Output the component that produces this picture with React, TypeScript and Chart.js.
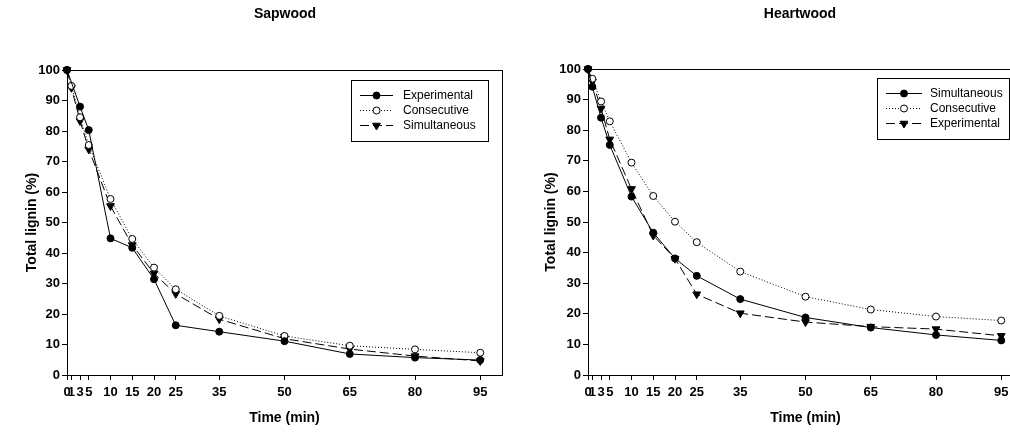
import React, { useEffect, useRef } from "react";
import { Chart, registerables } from "chart.js";

Chart.register(...registerables);

// ---------- data ----------
const times = [0, 1, 3, 5, 10, 15, 20, 25, 35, 50, 65, 80, 95];
const xTickValues = [0, 1, 3, 5, 10, 15, 20, 25, 35, 50, 65, 80, 95];

const sapExperimental = [100, null, 88.0, 80.3, 44.8, 41.7, 31.4, 16.3, 14.2, 11.1, 6.9, 5.7, 4.9];
const sapConsecutive = [100, 94.8, 84.5, 75.4, 57.7, 44.6, 35.2, 28.1, 19.4, 12.8, 9.6, 8.4, 7.3];
const sapSimultaneous = [100, 94.2, 83.3, 74.0, 55.4, 42.6, 33.3, 26.6, 18.3, 11.9, 8.5, 6.2, 4.6];

const heartSimultaneous = [100, 94.2, 84.1, 75.2, 58.3, 46.5, 38.1, 32.4, 24.8, 18.8, 15.5, 13.1, 11.3];
const heartConsecutive = [100, 96.8, 89.4, 82.9, 69.4, 58.5, 50.1, 43.4, 33.8, 25.6, 21.4, 19.1, 17.8];
const heartExperimental = [100, 95.9, 87.1, 77.0, 60.8, 45.6, 38.0, 26.4, 20.2, 17.3, 15.8, 15.0, 12.8];

const xTitle = "Time (min)";
const yTitle = "Total lignin (%)";

// ---------- styles ----------
const FONT = "'Liberation Sans', Arial, sans-serif";

type Style = "solid" | "dotted" | "dashed";
type Marker = "filled" | "open" | "triangle";

const dashOf = (s: Style) => (s === "solid" ? [] : s === "dotted" ? [1, 2] : [9, 4]);

function makeDataset(label: string, values: (number | null)[], style: Style, marker: Marker) {
  return {
    label,
    data: times.map((t, i) => ({ x: t, y: values[i] })),
    borderColor: "#000",
    borderWidth: 1,
    borderDash: dashOf(style),
    backgroundColor: marker === "open" ? "#fff" : "#000",
    pointBackgroundColor: marker === "open" ? "#fff" : "#000",
    pointBorderColor: "#000",
    pointBorderWidth: 1,
    pointStyle: marker === "triangle" ? "triangle" : "circle",
    pointRotation: marker === "triangle" ? 180 : 0,
    pointRadius: marker === "triangle" ? 4.5 : 3.5,
    tension: 0,
    spanGaps: true,
    clip: false as any,
    _style: style,
    _marker: marker,
  };
}

function drawMarker(ctx: CanvasRenderingContext2D, x: number, y: number, marker: Marker) {
  ctx.save();
  ctx.setLineDash([]);
  ctx.lineWidth = 1;
  ctx.strokeStyle = "#000";
  ctx.fillStyle = marker === "open" ? "#fff" : "#000";
  ctx.beginPath();
  if (marker === "triangle") {
    const r = 4.5;
    ctx.moveTo(x - r * 0.866, y - r * 0.5);
    ctx.lineTo(x + r * 0.866, y - r * 0.5);
    ctx.lineTo(x, y + r);
    ctx.closePath();
  } else {
    ctx.arc(x, y, 3.5, 0, Math.PI * 2);
  }
  ctx.fill();
  ctx.stroke();
  ctx.restore();
}

const framePlugin = {
  id: "frameAndExtras",
  afterDraw(chart: any) {
    const ctx: CanvasRenderingContext2D = chart.ctx;
    const opts = chart.options.plugins.frameAndExtras;
    const { left, top, right, bottom } = chart.chartArea;
    ctx.save();
    // frame
    ctx.strokeStyle = "#000";
    ctx.lineWidth = 1;
    ctx.setLineDash([]);
    ctx.strokeRect(Math.round(left) + 0.5, Math.round(top) + 0.5, Math.round(right - left), Math.round(bottom - top));
    // title
    ctx.fillStyle = "#000";
    ctx.font = `bold 14px ${FONT}`;
    ctx.textAlign = "center";
    ctx.textBaseline = "middle";
    ctx.fillText(opts.title, opts.titleX, opts.titleY);
    // legend
    const lg = opts.legend;
    ctx.fillStyle = "#fff";
    ctx.fillRect(lg.x, lg.y, lg.w, lg.h);
    ctx.strokeRect(lg.x + 0.5, lg.y + 0.5, lg.w, lg.h);
    ctx.font = `12px ${FONT}`;
    ctx.textAlign = "left";
    chart.data.datasets.forEach((ds: any, i: number) => {
      const yy = lg.rowY[i];
      ctx.save();
      ctx.strokeStyle = "#000";
      ctx.lineWidth = 1;
      ctx.setLineDash(dashOf(ds._style));
      ctx.beginPath();
      ctx.moveTo(lg.lineX0, yy + 0.5);
      ctx.lineTo(lg.lineX1, yy + 0.5);
      ctx.stroke();
      ctx.restore();
      drawMarker(ctx, (lg.lineX0 + lg.lineX1) / 2, yy + 0.5, ds._marker);
      ctx.fillStyle = "#000";
      ctx.fillText(ds.label, lg.textX, yy + 1);
    });
    ctx.restore();
  },
};

function makeConfig(cfg: any) {
  return {
    type: "line",
    data: { datasets: cfg.datasets },
    options: {
      responsive: false,
      animation: false,
      events: [],
      layout: { padding: { top: cfg.top, right: cfg.padRight, bottom: 0, left: 0 } },
      scales: {
        x: {
          type: "linear",
          min: 0,
          max: 100,
          afterBuildTicks: (s: any) => {
            s.ticks = xTickValues.map((v) => ({ value: v }));
          },
          afterFit: (s: any) => {
            s.height = 57;
          },
          ticks: {
            autoSkip: false,
            maxRotation: 0,
            minRotation: 0,
            color: "#000",
            padding: 5,
            font: { family: FONT, size: 13, weight: "bold" },
            callback: (v: any) => String(v),
          },
          grid: { drawOnChartArea: false, drawTicks: true, tickLength: 5, color: "#000", lineWidth: 1 },
          border: { display: true, color: "#000", width: 1 },
          title: {
            display: true,
            text: xTitle,
            color: "#000",
            font: { family: FONT, size: 14, weight: "bold" },
            padding: { top: 0, bottom: 5 },
          },
        },
        y: {
          type: "linear",
          min: 0,
          max: 100,
          afterFit: (s: any) => {
            s.width = cfg.yWidth;
          },
          ticks: {
            stepSize: 10,
            color: "#000",
            padding: 2,
            font: { family: FONT, size: 13, weight: "bold" },
          },
          grid: { drawOnChartArea: false, drawTicks: true, tickLength: 5, color: "#000", lineWidth: 1 },
          border: { display: true, color: "#000", width: 1 },
          title: {
            display: true,
            text: yTitle,
            color: "#000",
            font: { family: FONT, size: 14, weight: "bold" },
            padding: { top: cfg.yTitlePad, bottom: 0 },
          },
        },
      },
      plugins: {
        legend: { display: false },
        tooltip: { enabled: false },
        frameAndExtras: cfg.extras,
      },
    },
    plugins: [framePlugin],
  } as any;
}

function ChartCanvas({ config, width, height, left }: any) {
  const ref = useRef<HTMLCanvasElement | null>(null);
  useEffect(() => {
    if (!ref.current) return;
    const chart = new Chart(ref.current, config);
    return () => chart.destroy();
  }, [config]);
  return (
    <canvas
      ref={ref}
      width={width}
      height={height}
      style={{ position: "absolute", left, top: 0, width, height }}
    />
  );
}

const leftConfig = makeConfig({
  datasets: [
    makeDataset("Experimental", sapExperimental, "solid", "filled"),
    makeDataset("Consecutive", sapConsecutive, "dotted", "open"),
    makeDataset("Simultaneous", sapSimultaneous, "dashed", "triangle"),
  ],
  top: 70,
  padRight: 8,
  yWidth: 67,
  yTitlePad: 24,
  extras: {
    title: "Sapwood",
    titleX: 285,
    titleY: 14,
    legend: { x: 351, y: 80, w: 137, h: 61, lineX0: 360, lineX1: 393, textX: 403, rowY: [95, 110, 125] },
  },
});

const rightConfig = makeConfig({
  datasets: [
    makeDataset("Simultaneous", heartSimultaneous, "solid", "filled"),
    makeDataset("Consecutive", heartConsecutive, "dotted", "open"),
    makeDataset("Experimental", heartExperimental, "dashed", "triangle"),
  ],
  top: 69,
  padRight: 17,
  yWidth: 78,
  yTitlePad: 33,
  extras: {
    title: "Heartwood",
    titleX: 290,
    titleY: 14,
    legend: { x: 367, y: 78, w: 132, h: 61, lineX0: 376, lineX1: 412, textX: 420, rowY: [93, 108, 123] },
  },
});

export default function App() {
  return (
    <div
      style={{
        position: "absolute",
        left: 0,
        top: 0,
        width: 1010,
        height: 432,
        overflow: "hidden",
        background: "#fff",
      }}
    >
      <ChartCanvas config={leftConfig} width={510} height={432} left={0} />
      <ChartCanvas config={rightConfig} width={530} height={432} left={510} />
    </div>
  );
}
